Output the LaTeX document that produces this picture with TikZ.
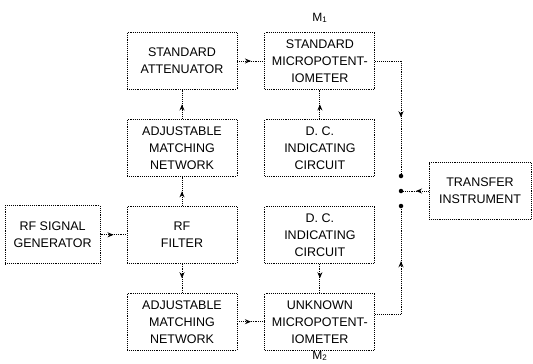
\documentclass[tikz,border=0pt]{standalone}
\usepackage{fontspec}
\setmainfont{Liberation Sans}
\usetikzlibrary{arrows.meta, positioning, decorations.markings}

\begin{document}
\begin{tikzpicture}[
    x=1pt, y=-1pt,
    node distance=29pt and 27pt,
    block/.style={rectangle, minimum width=110pt, minimum height=57pt, align=center, draw=black, line width=0.9pt, densely dotted, inner sep=1pt, font=\fontsize{12.5}{17}\selectfont},
    wire/.style={line width=0.9pt, densely dotted},
    midarrow/.style={wire, postaction={decorate}, decoration={markings, mark=at position 0.5 with {\arrow[solid]{Stealth[length=6pt,width=5pt]}}}},
    contact/.style={circle, fill=black, inner sep=0pt, minimum size=4.5pt},
    mlabel/.style={inner sep=0pt, font=\fontsize{12}{12}\selectfont}
]
    \useasboundingbox (0,0) rectangle (533,364);

    \node[block] (att) at (182,61) {STANDARD\\ATTENUATOR};
    \node[block, right=of att] (stdmp) {STANDARD\\MICROPOTENT-\\IOMETER};
    \node[block, below=of att] (adjtop) {ADJUSTABLE\\MATCHING\\NETWORK};
    \node[block, below=of stdmp] (dctop) {D. C.\\INDICATING\\CIRCUIT};
    \node[block, below=of adjtop] (filter) {RF\\FILTER};
    \node[block, below=of dctop] (dcbot) {D. C.\\INDICATING\\CIRCUIT};
    \node[block, below=of filter] (adjbot) {ADJUSTABLE\\MATCHING\\NETWORK};
    \node[block, below=of dcbot] (unkmp) {UNKNOWN\\MICROPOTENT-\\IOMETER};
    \node[block, minimum width=95pt, minimum height=58pt, left=26pt of filter] (gen) {RF SIGNAL\\GENERATOR};
    \node[block, minimum width=102pt] (xfer) at (480,191) {TRANSFER\\INSTRUMENT};

    \node[mlabel, above=9pt of stdmp] (m1) {M\textsubscript{1}};
    \node[mlabel, below=0pt of unkmp] (m2) {M\textsubscript{2}};

    % selector switch
    \coordinate (cornertop) at (401,61);
    \coordinate (cornerbot) at (401,314);
    \node[contact] (c1) at (401,176) {};
    \node[contact] (c2) at (401,206) {};
    \node[contact] (pivot) at (401,191) {};

    \draw[midarrow] (gen) -- (filter);
    \draw[midarrow] (filter) -- (adjtop);
    \draw[midarrow] (adjtop) -- (att);
    \draw[midarrow] (att) -- (stdmp);
    \draw[midarrow] (dctop) -- (stdmp);
    \draw[midarrow] (filter) -- (adjbot);
    \draw[midarrow] (adjbot) -- (unkmp);
    \draw[midarrow] (dcbot) -- (unkmp);
    \draw[wire] (stdmp.east) -- (cornertop);
    \draw[midarrow] (cornertop) -- (c1);
    \draw[wire] (unkmp.east |- cornerbot) -- (cornerbot);
    \draw[midarrow] (cornerbot) -- (c2);
    \draw[midarrow] (xfer) -- (pivot);

\end{tikzpicture}
\end{document}
